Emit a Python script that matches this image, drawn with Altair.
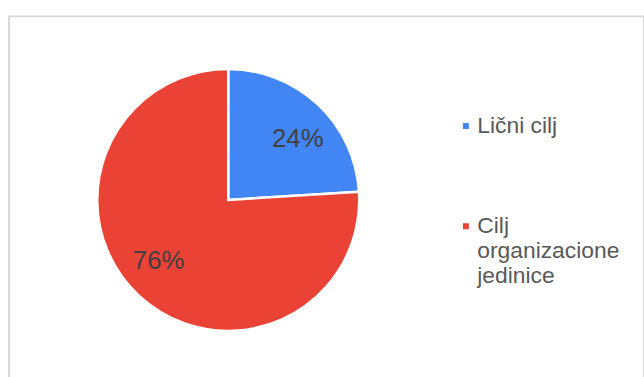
import altair as alt
import pandas as pd

categories = ["Lični cilj", "Cilj organizacione jedinice"]
values = [24, 76]
labels = ["24%", "76%"]
colors = ["#4285F4", "#EA4335"]

df = pd.DataFrame({
    "cat": categories,
    "value": values,
    "label": labels,
    "order": list(range(len(categories))),
})

legend = alt.Legend(
    title=None,
    orient="none",
    legendX=449,
    legendY=99,
    symbolType="square",
    symbolSize=36,
    symbolStrokeWidth=0,
    labelFont="Liberation Sans",
    labelFontSize=23,
    labelColor="#595959",
    labelOffset=0,
    labelLimit=300,
    rowPadding=77,
    padding=0,
    labelExpr="datum.label == 'Cilj organizacione jedinice' ? ['Cilj', 'organizacione', 'jedinice'] : datum.label",
)

base = alt.Chart(df).encode(
    theta=alt.Theta("value:Q", stack=True),
    order=alt.Order("order:Q"),
)

pie = base.mark_arc(outerRadius=132, stroke="white", strokeWidth=2.5).encode(
    color=alt.Color(
        "cat:N",
        scale=alt.Scale(domain=categories, range=colors),
        sort=categories,
        legend=legend,
    ),
    x=alt.value(221),
    y=alt.value(185),
)

text = base.mark_text(
    radius=93,
    thetaOffset=0.1,
    font="Liberation Sans",
    fontSize=26,
    color="#404040",
).encode(
    text="label:N",
    x=alt.value(221),
    y=alt.value(185),
)

chart = (
    alt.layer(pie, text)
    .properties(
        width=640,
        height=370,
        padding={"left": 9, "top": 15, "right": 0, "bottom": 0},
        autosize=alt.AutoSizeParams(type="none"),
        background="white",
    )
    .configure_view(stroke="#d9d9d9", strokeWidth=2)
)

chart.save("out.html", embed_options={"renderer": "svg", "actions": False})
